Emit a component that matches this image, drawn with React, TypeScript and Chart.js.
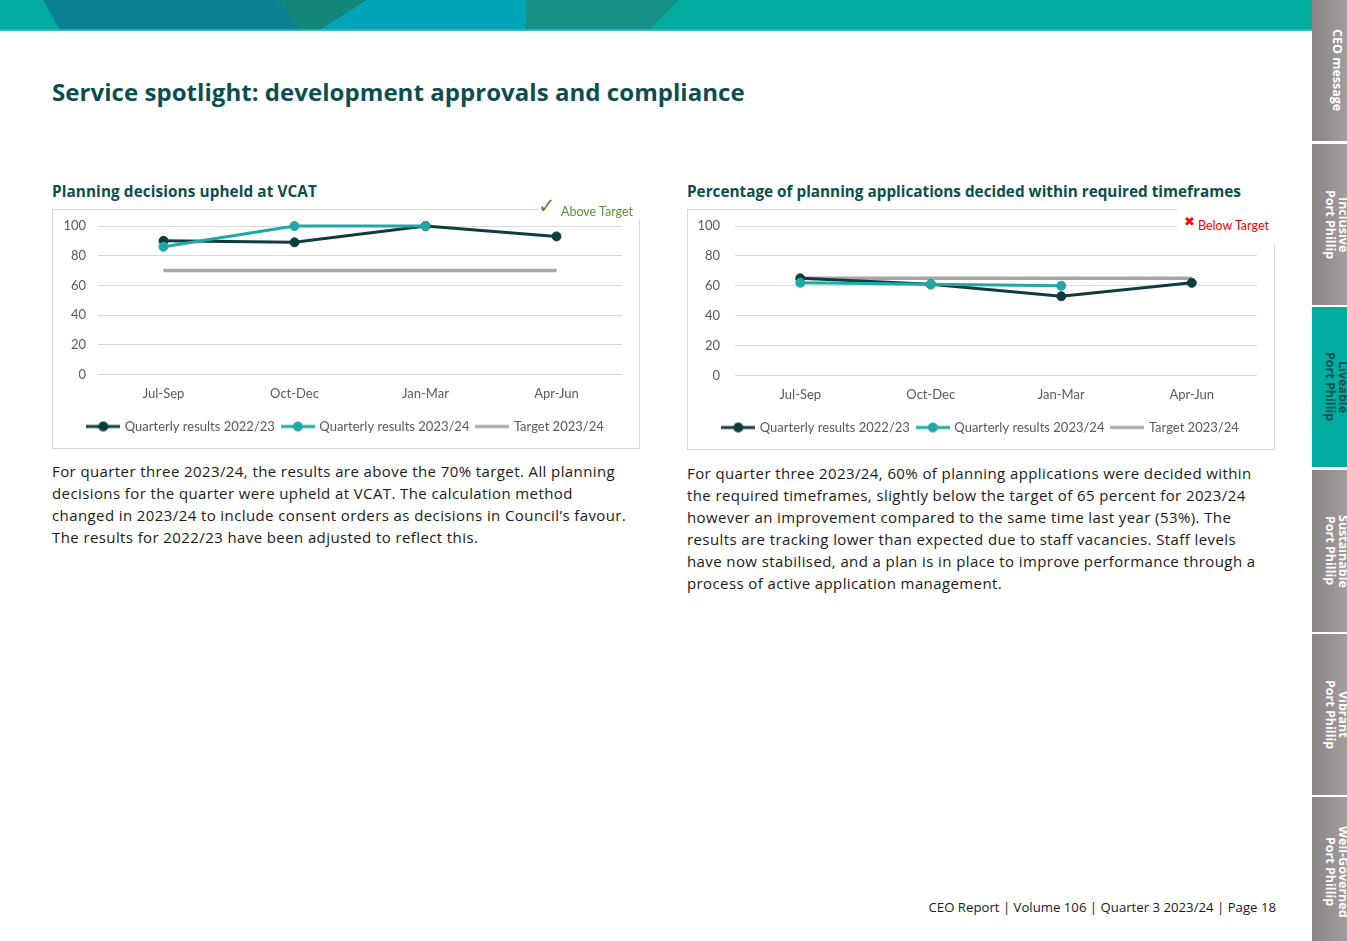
import React, { useEffect, useRef } from 'react';
import { Chart, registerables } from 'chart.js';

Chart.register(...registerables);

// ---------- data ----------
const quarters = ['Jul-Sep', 'Oct-Dec', 'Jan-Mar', 'Apr-Jun'];
const seriesLabels = ['Quarterly results 2022/23', 'Quarterly results 2023/24', 'Target 2023/24'];
const yTicks = [0, 20, 40, 60, 80, 100];

const vcat2223 = [90, 89, 100, 93];
const vcat2324: (number | null)[] = [86, 100, 100, null];
const vcatTarget = [70, 70, 70, 70];

const time2223 = [65, 61, 53, 62];
const time2324: (number | null)[] = [62, 61, 60, null];
const timeTarget = [65, 65, 65, 65];

const tabTitles = ['CEO message', 'Inclusive', 'Liveable', 'Sustainable', 'Vibrant', 'Well-Governed'];
const tabSubtitle = 'Port Phillip';

// ---------- styles ----------
const DARK = '#0f3c3e';
const TEAL = '#1ea9a6';
const GREY = '#a6a6a6';
const AXIS_TEXT = '#595959';
const HEAD = '#0c4e50';
const CHART_FONT = 'Lato, "Liberation Sans", sans-serif';
const TEXT_FONT = '"Open Sans", "Noto Sans", sans-serif';

function makeIcon(color: string, withDot: boolean): HTMLCanvasElement {
  const c = document.createElement('canvas');
  c.width = 34;
  c.height = 12;
  const ctx = c.getContext('2d')!;
  ctx.strokeStyle = color;
  ctx.lineWidth = 3;
  ctx.beginPath();
  ctx.moveTo(0, 6);
  ctx.lineTo(34, 6);
  ctx.stroke();
  if (withDot) {
    ctx.fillStyle = color;
    ctx.beginPath();
    ctx.arc(17, 6, 5, 0, Math.PI * 2);
    ctx.fill();
  }
  return c;
}

const legendFullWidth = {
  id: 'legendFullWidth',
  afterLayout(chart: any) {
    const l = chart.legend;
    if (l) {
      l.left = 0;
      l.right = chart.width;
      l.width = chart.width;
    }
  },
};

type LineChartProps = {
  a: (number | null)[];
  b: (number | null)[];
  target: number[];
  yWidth: number;
  yPad: number;
  padTop: number;
  padBottom: number;
};

function LineChart({ a, b, target, yWidth, yPad, padTop, padBottom }: LineChartProps) {
  const ref = useRef<HTMLCanvasElement | null>(null);
  useEffect(() => {
    if (!ref.current) return;
    const icons = [makeIcon(DARK, true), makeIcon(TEAL, true), makeIcon(GREY, false)];
    const colors = [DARK, TEAL, GREY];
    const chart = new Chart(ref.current, {
      type: 'line',
      data: {
        labels: quarters,
        datasets: [
          {
            label: seriesLabels[0],
            data: a,
            borderColor: DARK,
            backgroundColor: DARK,
            borderWidth: 3,
            pointRadius: 4.5,
            pointBorderWidth: 1,
            pointBackgroundColor: DARK,
            tension: 0,
            clip: false,
            order: 1,
          },
          {
            label: seriesLabels[1],
            data: b,
            borderColor: TEAL,
            backgroundColor: TEAL,
            borderWidth: 3,
            pointRadius: 4.5,
            pointBorderWidth: 1,
            pointBackgroundColor: TEAL,
            tension: 0,
            clip: false,
            order: 0,
          },
          {
            label: seriesLabels[2],
            data: target,
            borderColor: GREY,
            backgroundColor: GREY,
            borderWidth: 3.5,
            pointRadius: 0,
            tension: 0,
            clip: false,
            order: 2,
          },
        ],
      },
      options: {
        animation: false,
        responsive: false,
        maintainAspectRatio: false,
        layout: { padding: { top: padTop, right: 17, left: 0, bottom: padBottom } },
        scales: {
          x: {
            offset: true,
            grid: { display: false },
            border: { display: false },
            ticks: { color: AXIS_TEXT, font: { family: CHART_FONT, size: 13 }, padding: 4 },
            afterFit: (s: any) => {
              s.height = 37.5;
            },
          },
          y: {
            min: 0,
            max: 100,
            afterBuildTicks: (s: any) => {
              s.ticks = yTicks.map((v) => ({ value: v }));
            },
            ticks: { color: AXIS_TEXT, font: { family: CHART_FONT, size: 13 }, padding: yPad },
            grid: { color: '#d9d9d9', drawTicks: false, lineWidth: 1 },
            border: { display: false },
            afterFit: (s: any) => {
              s.width = yWidth;
              s.paddingTop = 0;
              s.paddingBottom = 0;
            },
          },
        },
        plugins: {
          tooltip: { enabled: false },
          legend: {
            position: 'bottom',
            labels: {
              usePointStyle: true,
              pointStyleWidth: 30,
              padding: 8,
              color: AXIS_TEXT,
              font: { family: CHART_FONT, size: 13 },
              generateLabels: (ch: any) =>
                ch.data.datasets.map((ds: any, i: number) => ({
                  text: ds.label,
                  fillStyle: colors[i],
                  strokeStyle: colors[i],
                  lineWidth: 0,
                  pointStyle: icons[i],
                  hidden: false,
                  datasetIndex: i,
                  fontColor: AXIS_TEXT,
                })),
            },
          },
        },
      } as any,
      plugins: [legendFullWidth],
    });
    return () => chart.destroy();
  }, []);
  return (
    <canvas
      ref={ref}
      width={586}
      height={238}
      style={{ position: 'absolute', left: 0, top: 0, width: 586, height: 238 }}
    />
  );
}

const abs = (o: React.CSSProperties): React.CSSProperties => ({ position: 'absolute', ...o });

function Banner() {
  return (
    <svg width={1312} height={31} style={abs({ left: 0, top: 0 })}>
      <rect x={0} y={0} width={1312} height={31} fill="#00ab9f" />
      <polygon points="43,0 277,0 303,30 60,30" fill="#0a8193" />
      <polygon points="277,0 367,0 320,30 303,30" fill="#12877a" />
      <polygon points="367,0 526,0 526,30 320,30" fill="#00a4b9" />
      <polygon points="526,0 679,0 649,30 526,30" fill="#179086" />
      <rect x={0} y={29.5} width={1312} height={1.5} fill="#3fc2c6" />
    </svg>
  );
}

const tabTops = [0, 144, 307, 470, 634, 797];
const tabHeights = [141, 161, 160, 162, 161, 150];

function SideTabs() {
  return (
    <>
      {tabTitles.map((t, i) => {
        const active = i === 2;
        const single = i === 0;
        return (
          <div
            key={t}
            style={abs({
              left: 1312,
              top: tabTops[i],
              width: 40,
              height: tabHeights[i],
              background: active ? '#00ab9f' : 'linear-gradient(to right, #8a8585, #a5a1a0)',
              overflow: 'hidden',
            })}
          >
            <div
              style={abs({
                top: 0,
                height: '100%',
                right: single ? 8 : 2,
                writingMode: 'vertical-rl',
                textAlign: 'center',
                fontFamily: TEXT_FONT,
                fontWeight: 700,
                fontSize: 12.5,
                lineHeight: '13.5px',
                color: active ? '#0c4e50' : '#ffffff',
                whiteSpace: 'nowrap',
              })}
            >
              {t}
              {!single && <br />}
              {!single && tabSubtitle}
            </div>
          </div>
        );
      })}
    </>
  );
}

const leftPara = [
  'For quarter three 2023/24, the results are above the 70% target. All planning',
  'decisions for the quarter were upheld at VCAT. The calculation method',
  'changed in 2023/24 to include consent orders as decisions in Council\u2019s favour.',
  'The results for 2022/23 have been adjusted to reflect this.',
];
const rightPara = [
  'For quarter three 2023/24, 60% of planning applications were decided within',
  'the required timeframes, slightly below the target of 65 percent for 2023/24',
  'however an improvement compared to the same time last year (53%). The',
  'results are tracking lower than expected due to staff vacancies. Staff levels',
  'have now stabilised, and a plan is in place to improve performance through a',
  'process of active application management.',
];

const paraStyle: React.CSSProperties = {
  fontFamily: TEXT_FONT,
  fontSize: 15,
  letterSpacing: 0.4,
  lineHeight: '22px',
  color: '#1a1a1a',
  whiteSpace: 'nowrap',
};

export default function App() {
  return (
    <div
      style={{
        position: 'fixed',
        left: 0,
        top: 0,
        width: 1347,
        height: 941,
        background: '#ffffff',
        overflow: 'hidden',
      }}
    >
      <Banner />
      <SideTabs />

      <div
        style={abs({
          left: 52,
          top: 77,
          fontFamily: TEXT_FONT,
          fontWeight: 700,
          fontSize: 24,
          lineHeight: '30px',
          color: HEAD,
          whiteSpace: 'nowrap',
          letterSpacing: 0.05,
        })}
      >
        Service spotlight: development approvals and compliance
      </div>

      {/* Left chart */}
      <div
        style={abs({
          left: 52,
          top: 181,
          fontFamily: TEXT_FONT,
          fontWeight: 700,
          fontSize: 15.3,
          lineHeight: '20px',
          color: HEAD,
          whiteSpace: 'nowrap',
          letterSpacing: 0.1,
        })}
      >
        Planning decisions upheld at VCAT
      </div>
      <div
        style={abs({
          left: 52,
          top: 209,
          width: 588,
          height: 240,
          border: '1px solid #d9d9d9',
          boxSizing: 'border-box',
        })}
      >
        <LineChart
          a={vcat2223}
          b={vcat2324}
          target={vcatTarget}
          yWidth={45}
          yPad={12}
          padTop={16}
          padBottom={5}
        />
      </div>
      <div style={abs({ left: 538, top: 195, width: 104, height: 24, background: '#ffffff' })}>
        <span
          style={abs({
            left: 0,
            top: -1,
            fontSize: 21,
            lineHeight: '24px',
            color: '#4e8a2b',
            fontFamily: '"DejaVu Sans", sans-serif',
          })}
        >
          ✓
        </span>
        <span
          style={abs({
            left: 23,
            top: 9,
            fontSize: 12.5,
            lineHeight: '16px',
            color: '#5a9234',
            fontFamily: CHART_FONT,
            whiteSpace: 'nowrap',
          })}
        >
          Above Target
        </span>
      </div>
      <div style={abs({ left: 52, top: 459.5, ...paraStyle })}>
        {leftPara.map((l) => (
          <div key={l}>{l}</div>
        ))}
      </div>

      {/* Right chart */}
      <div
        style={abs({
          left: 687,
          top: 181,
          fontFamily: TEXT_FONT,
          fontWeight: 700,
          fontSize: 15.3,
          lineHeight: '20px',
          color: HEAD,
          whiteSpace: 'nowrap',
        })}
      >
        Percentage of planning applications decided within required timeframes
      </div>
      <div
        style={abs({
          left: 687,
          top: 209,
          width: 588,
          height: 241,
          border: '1px solid #d9d9d9',
          boxSizing: 'border-box',
        })}
      >
        <LineChart
          a={time2223}
          b={time2324}
          target={timeTarget}
          yWidth={47}
          yPad={15}
          padTop={16}
          padBottom={4}
        />
      </div>
      <div style={abs({ left: 1177, top: 205, width: 100, height: 40, background: '#ffffff' })}>
        <span
          style={abs({
            left: 7,
            top: 9,
            fontSize: 13,
            lineHeight: '16px',
            color: '#ff0000',
            fontWeight: 700,
            fontFamily: '"DejaVu Sans", sans-serif',
          })}
        >
          ✖
        </span>
        <span
          style={abs({
            left: 21,
            top: 13,
            fontSize: 12.5,
            lineHeight: '16px',
            color: '#ff0000',
            fontFamily: CHART_FONT,
            whiteSpace: 'nowrap',
          })}
        >
          Below Target
        </span>
      </div>
      <div style={abs({ left: 687, top: 461.5, ...paraStyle })}>
        {rightPara.map((l) => (
          <div key={l}>{l}</div>
        ))}
      </div>

      <div
        style={abs({
          right: 1347 - 1276,
          top: 897,
          fontFamily: TEXT_FONT,
          fontSize: 13.2,
          lineHeight: '20px',
          color: '#1a1a1a',
          whiteSpace: 'nowrap',
        })}
      >
        CEO Report | Volume 106 | Quarter 3 2023/24 | Page 18
      </div>
    </div>
  );
}
